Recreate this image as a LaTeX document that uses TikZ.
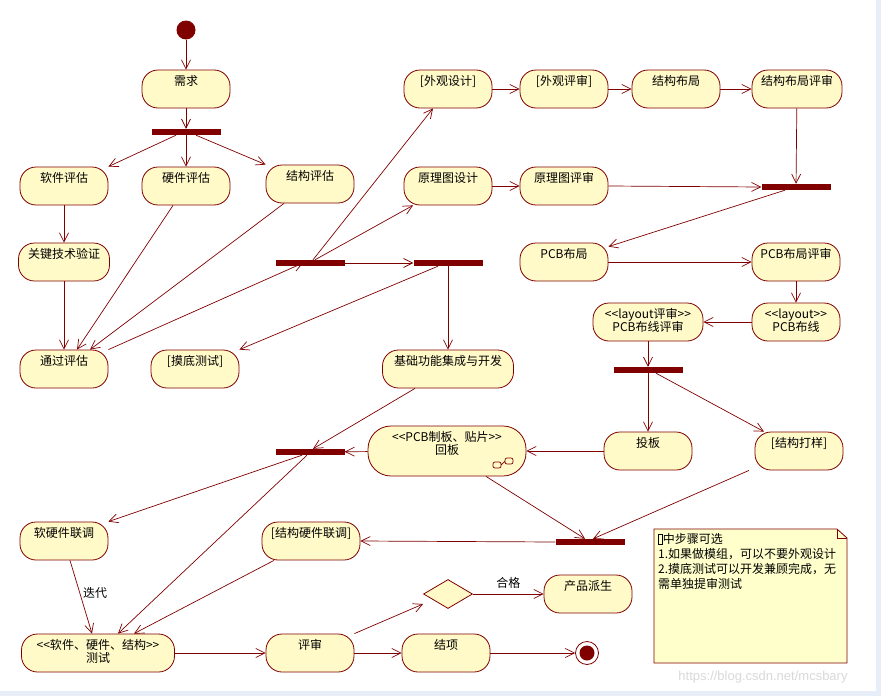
\documentclass[tikz,border=0pt]{standalone}
\usepackage{fontspec}
\setmainfont{Noto Sans CJK SC}
\newfontfamily\wmfont{Liberation Sans}
\usetikzlibrary{arrows.meta,shapes.geometric}
\definecolor{rosered}{RGB}{128,0,0}
\definecolor{rosefill}{RGB}{255,250,200}
\definecolor{notefill}{RGB}{255,255,204}
\definecolor{framebg}{RGB}{232,238,248}
\newcommand\tofu{\raisebox{-1pt}{\fboxsep=0pt\fboxrule=0.6pt\fbox{\rule{0pt}{10pt}\hspace{3.5pt}}}}

\begin{document}
\begin{tikzpicture}[x=1pt,y=-1pt,
  font=\fontsize{12}{13}\selectfont,
  act/.style={draw=rosered,fill=rosefill,line width=0.8pt,rounded corners=16pt,
    minimum width=88pt,minimum height=38pt,inner sep=0pt},
  txt/.style={label={[anchor=north,yshift=-6pt,align=center,inner sep=0pt]north:#1}},
  bar/.style={fill=rosered,minimum width=69pt,minimum height=6pt,inner sep=0pt},
  flow/.style={draw=rosered,line width=0.7pt,-{Straight Barb[length=9pt,width=9pt]}}
]
\useasboundingbox (0,0) rectangle (881,696);
\fill[white] (0,0) rectangle (881,696);
\fill[framebg] (876,0) rectangle (881,696);
\fill[framebg] (0,691) rectangle (881,696);

% start and requirement
\node[circle,fill=rosered,minimum size=19pt,inner sep=0pt] (start) at (186,30) {};
\node[act,txt=需求] (req) at (186,89) {};
\node[bar] (fork1) at (186,132) {};

% evaluation
\node[act,txt=软件评估] (sweval) at (64,186) {};
\node[act,txt=硬件评估] (hweval) at (186,186) {};
\node[act,txt=结构评估] (mceval) at (310,184) {};
\node[act,minimum width=91pt,txt=关键技术验证] (keytech) at (64,262) {};
\node[act,txt=通过评估] (passeval) at (64,369) {};
\node[act,txt={[摸底测试]}] (pretest) at (195,369) {};

\node[bar] (fork2) at (310,263) {};
\node[bar] (fork3) at (448,263) {};

% design branch
\node[act,txt={[外观设计]}] (lookdes) at (448,89) {};
\node[act,txt={[外观评审]}] (lookrev) at (564,89) {};
\node[act,txt=结构布局] (mclayout) at (676,89) {};
\node[act,minimum width=90pt,txt=结构布局评审] (mclayoutrev) at (797,89) {};
\node[act,txt=原理图设计] (schdes) at (448,186) {};
\node[act,txt=原理图评审] (schrev) at (564,186) {};
\node[bar] (fork4) at (796,187) {};

% pcb
\node[act,txt=PCB布局] (pcblayout) at (564,262) {};
\node[act,txt=PCB布局评审] (pcblayoutrev) at (796,262) {};
\node[act,txt={<{}<layout>{}>\\PCB布线}] (pcbroute) at (796,322) {};
\node[act,minimum width=110pt,txt={<{}<layout评审>{}>\\PCB布线评审}] (pcbrouterev) at (648,322) {};
\node[bar] (fork5) at (648,370) {};
\node[act,minimum width=131pt,txt=基础功能集成与开发] (basedev) at (448,369) {};
\node[act,txt=投板] (tapeout) at (648,451) {};
\node[act,txt={[结构打样]}] (mcproto) at (799,451) {};
\node[act,minimum width=158pt,minimum height=50pt,rounded corners=23pt,
  txt={<{}<PCB制板、贴片>{}>\\回板}] (pcbback) at (447,451) {};
\draw[rosered,line width=0.7pt,rounded corners=2pt]
  (493,462) rectangle (501,468) (505,458) rectangle (513,464) (501,465) -- (505,461);
\node[bar] (fork6) at (310,452) {};
\node[bar] (fork7) at (590,542) {};

% integration and test
\node[act,txt=软硬件联调] (swhw) at (64,541) {};
\node[act,minimum width=98pt,txt={[结构硬件联调]}] (mchw) at (311,541) {};
\node[act,minimum width=153pt,txt={<{}<软件、硬件、结构>{}>\\测试}] (systest) at (98,653) {};
\node[act,txt=评审] (review) at (310,653) {};
\node[act,txt=结项] (close) at (446,653) {};
\node[diamond,draw=rosered,fill=rosefill,line width=0.8pt,minimum width=49pt,
  minimum height=29pt,inner sep=0pt] (choice) at (448,594) {};
\node[act,txt=产品派生] (derive) at (588,594) {};
\node[circle,draw=rosered,line width=0.8pt,fill=white,minimum size=23pt,inner sep=0pt,
  path picture={\fill[rosered] (path picture bounding box.center) circle (7.5pt);}]
  (stop) at (587,653) {};

% connectors
\draw[flow] (start) -- (req);
\draw[flow] (req) -- (fork1);
\draw[flow] ([xshift=-10pt]fork1.south) -- (sweval.north east);
\draw[flow] (fork1) -- (hweval);
\draw[flow] ([xshift=10pt]fork1.south) -- (mceval.north west);
\draw[flow] (sweval) -- (keytech);
\draw[flow] (keytech) -- (passeval);
\draw[flow] ([xshift=-13pt]hweval.south) -- ([xshift=13pt]passeval.north);
\draw[flow] ([xshift=-26pt]mceval.south) -- ([xshift=26pt]passeval.north);
\draw[flow] (passeval.north east) -- ([xshift=-7pt]fork2.center);
\draw[flow] ([xshift=3pt]fork2.north) -- ([xshift=-15pt]lookdes.south);
\draw[flow] ([xshift=5pt]fork2.north) -- ([xshift=-35pt]schdes.south);
\draw[flow] (fork2) -- (fork3);
\draw[flow] ([xshift=-10pt]fork3.south) -- (pretest.north east);
\draw[flow] (fork3) -- (basedev);
\draw[flow] (lookdes) -- (lookrev);
\draw[flow] (lookrev) -- (mclayout);
\draw[flow] (mclayout) -- (mclayoutrev);
\draw[flow] (mclayoutrev) -- (fork4);
\draw[flow] (schdes) -- (schrev);
\draw[flow] (schrev.east) -- (fork4.west);
\draw[flow] ([xshift=-11pt]fork4.south) -- ([yshift=-4pt]pcblayout.north east);
\draw[flow] (pcblayout) -- (pcblayoutrev);
\draw[flow] (pcblayoutrev) -- (pcbroute);
\draw[flow] (pcbroute) -- (pcbrouterev);
\draw[flow] (pcbrouterev) -- (fork5);
\draw[flow] (fork5) -- (tapeout);
\draw[flow] ([xshift=8pt]fork5.south) -- ([xshift=-35pt]mcproto.north);
\draw[flow] (tapeout) -- (pcbback);
\draw[flow] (pcbback) -- (fork6);
\draw[flow] ([xshift=-33pt]basedev.south) -- ([xshift=3pt]fork6.north);
\draw[flow] ([xshift=-8pt]fork6.south) -- (swhw.north east);
\draw[flow] ([xshift=-3pt]fork6.south) -- ([xshift=20pt]systest.north);
\draw[flow] ([xshift=39pt]pcbback.south) -- ([xshift=-5pt]fork7.north);
\draw[flow] ([xshift=-50pt]mcproto.south) -- ([xshift=3pt]fork7.north);
\draw[flow] (fork7.west) -- (mchw.east);
\draw[flow] ([xshift=6pt]swhw.south) -- ([xshift=-6pt]systest.north)
  node[pos=0.44,right,inner sep=3pt] (iter) {迭代};
\draw[flow] ([xshift=-37pt]mchw.south) -- ([xshift=36pt]systest.north);
\draw[flow] (systest) -- (review);
\draw[flow] (review.north east) -- ([yshift=-10pt]choice.west);
\draw[flow] (review) -- (close);
\draw[flow] (close) -- (stop);
\draw[flow] (choice) -- (derive) node[midway,above,yshift=2pt] (pass) {合格};

% note
\draw[rosered,fill=notefill,line width=0.8pt]
  (654,529) -- (837,529) -- (847,538) -- (847,663) -- (654,663) -- cycle;
\draw[rosered,line width=0.6pt] (837,529) -- (837,538) -- (847,538);
\node[anchor=north west,align=left,inner sep=0pt,font=\fontsize{12}{15}\selectfont]
  (note) at (658,533) {\tofu 中步骤可选\\1.如果做模组，可以不要外观设计\\2.摸底测试可以开发兼顾完成，无\\需单独提审测试};

\node[text=black!15,font=\wmfont\fontsize{13}{15}\selectfont] (wm) at (763,677) {https://blog.csdn.net/mcsbary};
\end{tikzpicture}
\end{document}
